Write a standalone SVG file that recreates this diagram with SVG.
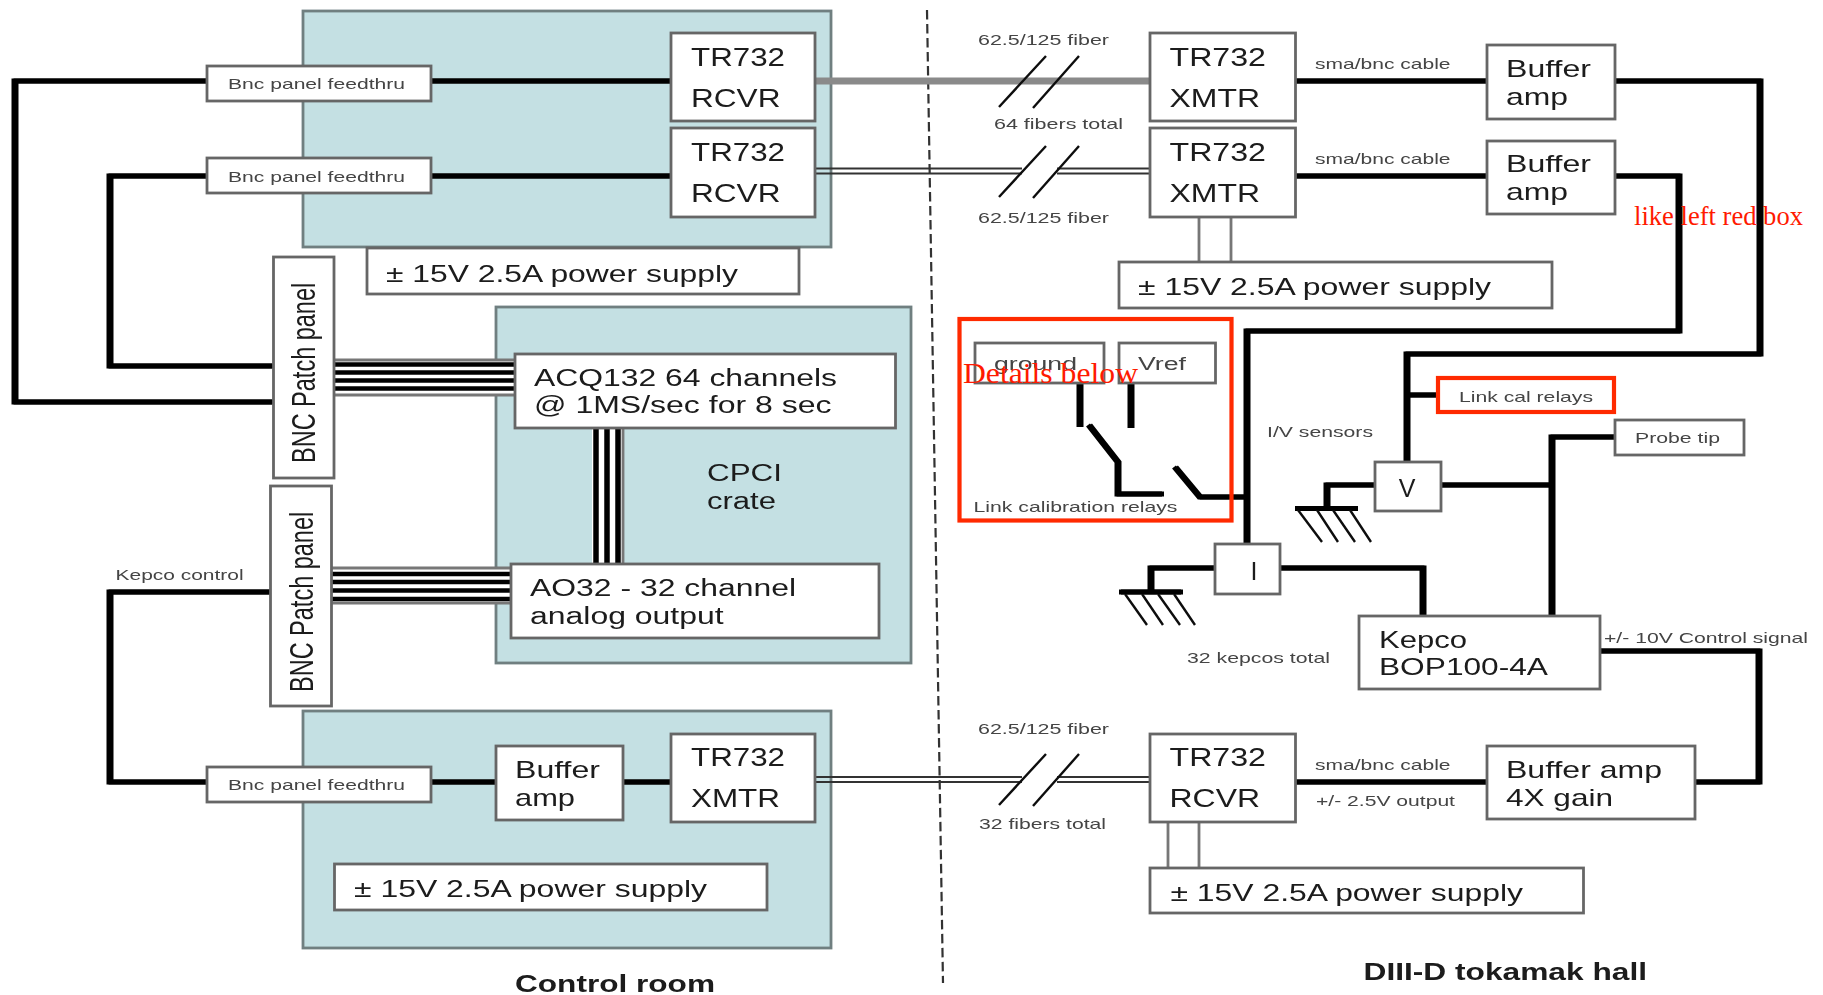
<svg xmlns="http://www.w3.org/2000/svg" xmlns:xlink="http://www.w3.org/1999/xlink" width="1823" height="995" viewBox="0 0 1823 995">
<style>
text{font-family:"Liberation Sans",Arial,sans-serif;fill:#1a1a1a}
.b{font-size:25px}.m{font-size:24px}.a{font-size:23px}
.s{font-size:15px;fill:#444}
.t{font-size:23px;font-weight:bold}
.red{font-family:"Liberation Serif","Times New Roman",serif;fill:#ff1a00}
.box{fill:#fff;stroke:#666;stroke-width:2.8}
.zone{fill:#c4e0e3;stroke:#6f7f80;stroke-width:2.8}
.k{fill:none;stroke:#000;stroke-width:5;stroke-linejoin:miter}
.g{fill:none;stroke:#777;stroke-width:2.8}
.w{fill:none;stroke:#000;stroke-width:4.5}
.h{fill:none;stroke:#111;stroke-width:2.4}
.f{fill:none;stroke:#333;stroke-width:1.8}
</style>
<defs>
<filter id="soft" x="0" y="0" width="1823" height="995" filterUnits="userSpaceOnUse" primitiveUnits="userSpaceOnUse"><feGaussianBlur stdDeviation="0.7 0.45"/></filter>
<g id="wires">
<path class="k" d="M207 81H15V402H273"/>
<path class="k" d="M207 176H110V366H273"/>
<path class="k" d="M431 81H671M431 176H671"/>
<path class="k" d="M273 592H110V782H207"/>
<path class="k" d="M431 782H496M623 782H671"/>
<path class="k" d="M1295 81H1487M1295 176H1487M1295 782H1487"/>
<path class="k" d="M1615 81H1760V354H1407V462"/>
<path class="k" d="M1615 176H1679V331H1247V544"/>
<path class="k" d="M1407 395H1438"/>
<path class="k" d="M1615 437H1552V616"/>
<path class="k" d="M1441 485H1552"/>
<path class="k" d="M1375 485H1327V508.500M1296 508.500H1357"/>
<path class="k" d="M1215 568H1151V592M1120 592H1182"/>
<path class="k" d="M1280 568H1423V616"/>
<path class="k" d="M1600 651H1759V782H1695"/>
<path class="k" d="M1080 383V427M1131 383V428"/>
<path class="k" d="M1089 425L1118 462V494H1163M1175 467L1200 497H1247"/>
</g>
</defs>
<g filter="url(#soft)">
<g id="zones">
<rect id="zone-top" class="zone" x="303" y="11" width="528" height="236"/>
<rect id="zone-cpci" class="zone" x="496" y="307" width="415" height="356"/>
<rect id="zone-bottom" class="zone" x="303" y="711" width="528" height="237"/>
</g>
<g id="connectors">
<path d="M927 10 L943 983" fill="none" stroke="#333" stroke-width="2.2" stroke-dasharray="9.500 4.500"/>
<use href="#wires" xlink:href="#wires" x="-1"/>
<use href="#wires" xlink:href="#wires" x="1"/>
<path d="M815 81H1150" fill="none" stroke="#8a8a8a" stroke-width="7"/>
<path class="f" d="M815 168.500H1022M1057 168.500H1150M815 173.500H1022M1057 173.500H1150M815 777H1022M1057 777H1150M815 782H1022M1057 782H1150"/>
<path class="h" d="M1046 56L999 107M1079 56L1033 108M1046 146L999 197M1079 146L1033 198M1046 754L999 805M1079 754L1033 806"/>
<path class="h" d="M1298 510L1322 542M1317 510L1338 542M1333 510L1355 542M1350 510L1371 542"/>
<path class="h" d="M1125 594L1147 625M1142 594L1163 625M1158 594L1180 625M1174 594L1195 625"/>
<path class="g" d="M1199 217V262M1231 217V262M1168 822V868M1199 822V868"/>
<g id="bus-acq">
<rect x="334" y="360" width="181" height="35" fill="#fff"/>
<path class="w" d="M334 364.500H515M334 372.500H515M334 380.500H515M334 388.500H515"/>
<path class="g" d="M334 360H515M334 395H515"/>
</g>
<g id="bus-ao">
<rect x="331" y="568" width="180" height="35" fill="#fff"/>
<path class="w" d="M331 574H511M331 582H511M331 590.500H511M331 599H511"/>
<path class="g" d="M331 568H511M331 603H511"/>
</g>
<g id="bus-pci">
<rect x="592" y="428" width="31" height="136" fill="#fff"/>
<path class="w" d="M596 428V564M607 428V564M618 428V564" style="stroke-width:5.500"/>
<path class="g" d="M623 428V564"/>
</g>
</g>
<g id="rcvr-1"><rect class="box" x="671" y="33" width="144" height="88"/><text class="b" x="691" y="66" textLength="94" lengthAdjust="spacingAndGlyphs">TR732</text><text class="b" x="691" y="107" textLength="89.500" lengthAdjust="spacingAndGlyphs">RCVR</text></g>
<g id="rcvr-2"><rect class="box" x="671" y="128" width="144" height="89"/><text class="b" x="691" y="161" textLength="94" lengthAdjust="spacingAndGlyphs">TR732</text><text class="b" x="691" y="202" textLength="89.500" lengthAdjust="spacingAndGlyphs">RCVR</text></g>
<g id="bnc-1"><rect class="box" x="207" y="66" width="224" height="35"/><text class="s" x="228" y="89" textLength="177" lengthAdjust="spacingAndGlyphs">Bnc panel feedthru</text></g>
<g id="bnc-2"><rect class="box" x="207" y="158" width="224" height="35"/><text class="s" x="228" y="182" textLength="177" lengthAdjust="spacingAndGlyphs">Bnc panel feedthru</text></g>
<g id="ps-1"><rect class="box" x="367" y="248" width="432" height="46"/><text class="m" x="386" y="282" textLength="352" lengthAdjust="spacingAndGlyphs">± 15V 2.5A power supply</text></g>
<g id="patch-1"><rect class="box" x="273.500" y="257" width="60.500" height="221"/><text x="0" y="0" style="font-size:23.500px" transform="translate(315 463) rotate(-90) scale(1 1.400)">BNC Patch panel</text></g>
<g id="patch-2"><rect class="box" x="270.500" y="486" width="61" height="220"/><text x="0" y="0" style="font-size:23.500px" transform="translate(313 692) rotate(-90) scale(1 1.400)">BNC Patch panel</text></g>
<g id="acq"><rect class="box" x="515" y="354" width="380.500" height="74"/><text class="a" x="534" y="386" textLength="303" lengthAdjust="spacingAndGlyphs">ACQ132 64 channels</text><text class="a" x="534" y="413" textLength="297.500" lengthAdjust="spacingAndGlyphs">@ 1MS/sec for 8 sec</text></g>
<g id="cpci"><text class="a" x="707" y="481" textLength="75" lengthAdjust="spacingAndGlyphs">CPCI</text><text class="a" x="707" y="509" textLength="69" lengthAdjust="spacingAndGlyphs">crate</text></g>
<g id="ao32"><rect class="box" x="511" y="564" width="368" height="74"/><text class="a" x="530" y="596" textLength="266" lengthAdjust="spacingAndGlyphs">AO32 - 32 channel</text><text class="a" x="530" y="624" textLength="193.600" lengthAdjust="spacingAndGlyphs">analog output</text></g>
<g id="bnc-3"><rect class="box" x="207" y="767" width="224" height="35"/><text class="s" x="228" y="790" textLength="177" lengthAdjust="spacingAndGlyphs">Bnc panel feedthru</text></g>
<g id="buffer-left"><rect class="box" x="496" y="746" width="127" height="74"/><text class="m" x="515" y="778" textLength="85" lengthAdjust="spacingAndGlyphs">Buffer</text><text class="m" x="515" y="806" textLength="60" lengthAdjust="spacingAndGlyphs">amp</text></g>
<g id="xmtr-left"><rect class="box" x="671" y="734" width="144" height="88"/><text class="b" x="691" y="766" textLength="94" lengthAdjust="spacingAndGlyphs">TR732</text><text class="b" x="691" y="807" textLength="89" lengthAdjust="spacingAndGlyphs">XMTR</text></g>
<g id="ps-2"><rect class="box" x="334.500" y="864" width="432.500" height="46"/><text class="m" x="354" y="897" textLength="353" lengthAdjust="spacingAndGlyphs">± 15V 2.5A power supply</text></g>
<g id="xmtr-1"><rect class="box" x="1150" y="33" width="145.500" height="88"/><text class="b" x="1169.500" y="66" textLength="96.500" lengthAdjust="spacingAndGlyphs">TR732</text><text class="b" x="1169.500" y="107" textLength="90.500" lengthAdjust="spacingAndGlyphs">XMTR</text></g>
<g id="xmtr-2"><rect class="box" x="1150" y="128" width="145.500" height="89"/><text class="b" x="1169.500" y="161" textLength="96.500" lengthAdjust="spacingAndGlyphs">TR732</text><text class="b" x="1169.500" y="202" textLength="90.500" lengthAdjust="spacingAndGlyphs">XMTR</text></g>
<g id="buffer-1"><rect class="box" x="1487" y="45" width="128" height="74"/><text class="m" x="1506" y="77" textLength="85" lengthAdjust="spacingAndGlyphs">Buffer</text><text class="m" x="1506" y="105" textLength="62" lengthAdjust="spacingAndGlyphs">amp</text></g>
<g id="buffer-2"><rect class="box" x="1487" y="141" width="128" height="73"/><text class="m" x="1506" y="172" textLength="85" lengthAdjust="spacingAndGlyphs">Buffer</text><text class="m" x="1506" y="200" textLength="62" lengthAdjust="spacingAndGlyphs">amp</text></g>
<g id="ps-3"><rect class="box" x="1119" y="262" width="433" height="46"/><text class="m" x="1138" y="295" textLength="353" lengthAdjust="spacingAndGlyphs">± 15V 2.5A power supply</text></g>
<g id="relay-box"><rect x="959.500" y="319" width="272" height="201.500" fill="none" stroke="#ff2a00" stroke-width="4.200"/><text class="s" x="973.500" y="512" textLength="204" lengthAdjust="spacingAndGlyphs">Link calibration relays</text></g>
<g id="ground"><rect class="box" x="975" y="343" width="129" height="40" style="fill:none"/><text x="994" y="370" style="font-size:18px;fill:#444" textLength="83" lengthAdjust="spacingAndGlyphs">ground</text></g>
<g id="vref"><rect class="box" x="1119" y="343" width="96.500" height="40" style="fill:none"/><text x="1138" y="370" style="font-size:18px;fill:#444" textLength="48" lengthAdjust="spacingAndGlyphs">Vref</text></g>
<g id="link-cal"><rect x="1438" y="378" width="176" height="34" fill="#fff" stroke="#ff2a00" stroke-width="4.200"/><text class="s" x="1459" y="402" textLength="134" lengthAdjust="spacingAndGlyphs">Link cal relays</text></g>
<g id="probe-tip"><rect class="box" x="1615" y="420" width="129" height="35"/><text class="s" x="1635" y="443" textLength="85" lengthAdjust="spacingAndGlyphs">Probe tip</text></g>
<g id="v-sensor"><rect class="box" x="1375" y="462" width="66" height="49"/><text class="b" x="1407" y="497" text-anchor="middle">V</text></g>
<g id="i-sensor"><rect class="box" x="1215" y="544" width="65" height="50"/><text class="b" x="1254" y="580" text-anchor="middle">I</text></g>
<g id="kepco"><rect class="box" x="1359" y="616" width="241" height="73"/><text class="m" x="1379" y="648" textLength="88" lengthAdjust="spacingAndGlyphs">Kepco</text><text class="m" x="1379" y="675" textLength="169" lengthAdjust="spacingAndGlyphs">BOP100-4A</text></g>
<g id="rcvr-3"><rect class="box" x="1150" y="734" width="145.500" height="88"/><text class="b" x="1169.500" y="766" textLength="96.500" lengthAdjust="spacingAndGlyphs">TR732</text><text class="b" x="1169.500" y="807" textLength="90.500" lengthAdjust="spacingAndGlyphs">RCVR</text></g>
<g id="buffer-4x"><rect class="box" x="1487" y="746" width="208" height="73"/><text class="m" x="1506" y="778" textLength="156" lengthAdjust="spacingAndGlyphs">Buffer amp</text><text class="m" x="1506" y="806" textLength="107" lengthAdjust="spacingAndGlyphs">4X gain</text></g>
<g id="ps-4"><rect class="box" x="1150" y="868" width="433.500" height="45"/><text class="m" x="1170.500" y="901" textLength="352.500" lengthAdjust="spacingAndGlyphs">± 15V 2.5A power supply</text></g>
<g id="labels">
<text class="s" x="978" y="45" textLength="131" lengthAdjust="spacingAndGlyphs">62.5/125 fiber</text>
<text class="s" x="994" y="129" textLength="129" lengthAdjust="spacingAndGlyphs">64 fibers total</text>
<text class="s" x="978" y="223" textLength="131" lengthAdjust="spacingAndGlyphs">62.5/125 fiber</text>
<text class="s" x="978" y="734" textLength="131" lengthAdjust="spacingAndGlyphs">62.5/125 fiber</text>
<text class="s" x="979" y="829" textLength="127" lengthAdjust="spacingAndGlyphs">32 fibers total</text>
<text class="s" x="1315" y="69" textLength="135.500" lengthAdjust="spacingAndGlyphs">sma/bnc cable</text>
<text class="s" x="1315" y="164" textLength="135.500" lengthAdjust="spacingAndGlyphs">sma/bnc cable</text>
<text class="s" x="1315" y="770" textLength="135.500" lengthAdjust="spacingAndGlyphs">sma/bnc cable</text>
<text class="s" x="1316" y="806" textLength="139" lengthAdjust="spacingAndGlyphs">+/- 2.5V output</text>
<text class="s" x="1267" y="437" textLength="106" lengthAdjust="spacingAndGlyphs">I/V sensors</text>
<text class="s" x="1187" y="663" textLength="143" lengthAdjust="spacingAndGlyphs">32 kepcos total</text>
<text class="s" x="1604" y="643" textLength="204" lengthAdjust="spacingAndGlyphs">+/- 10V Control signal</text>
<text class="s" x="115.600" y="580" textLength="128" lengthAdjust="spacingAndGlyphs">Kepco control</text>
<text class="t" x="515" y="992" textLength="200" lengthAdjust="spacingAndGlyphs">Control room</text>
<text class="t" x="1363.500" y="980" textLength="283.500" lengthAdjust="spacingAndGlyphs">DIII-D tokamak hall</text>
</g>
</g>
<g id="annotations">
<text class="red" x="963" y="383" style="font-size:30px" textLength="175" lengthAdjust="spacingAndGlyphs">Details below</text>
<text class="red" x="1634" y="225" style="font-size:27px" textLength="169" lengthAdjust="spacingAndGlyphs">like left red box</text>
</g>
</svg>
